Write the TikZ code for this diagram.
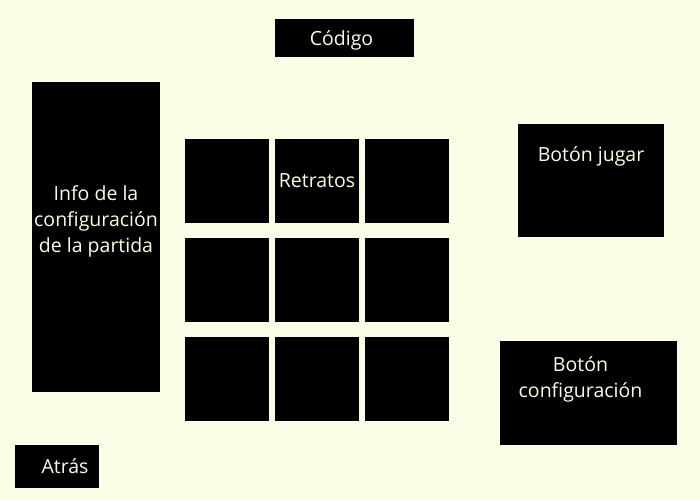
\documentclass[tikz,border=0pt]{standalone}
\usepackage{fontspec}
\setmainfont{Open Sans}
\usetikzlibrary{positioning}
\definecolor{ScreenBg}{HTML}{FAFEE6}
\definecolor{ScreenInk}{HTML}{000000}
\begin{document}
\begin{tikzpicture}[x=1pt,y=1pt,font=\fontsize{19.5}{26}\selectfont]
\tikzset{
  panel/.style={fill=ScreenInk,draw=none,inner sep=0pt,text=ScreenBg,align=center},
  portrait/.style={panel,minimum width=84pt,minimum height=84pt},
  caption/.style={text=ScreenBg,align=center,inner sep=0pt}
}
\fill[ScreenBg] (0,0) rectangle (700,500);
\useasboundingbox (0,0) rectangle (700,500);

\node[panel,minimum width=139pt,minimum height=38pt,
  label={[caption,xshift=-3pt,yshift=-2pt]center:Código}] (codigo) at (344.5,462) {};

\node[panel,minimum width=128pt,minimum height=310pt,
  label={[caption,yshift=16pt]center:{Info de la\\configuración\\de la partida}}] (info) at (96,263) {};

\node[portrait] (r11) at (227,319) {};
\node[portrait] (r12) at (317,319) {Retratos};
\node[portrait] (r13) at (407,319) {};
\node[portrait] (r21) at (227,220) {};
\node[portrait] (r22) at (317,220) {};
\node[portrait] (r23) at (407,220) {};
\node[portrait] (r31) at (227,121) {};
\node[portrait] (r32) at (317,121) {};
\node[portrait] (r33) at (407,121) {};

\node[panel,minimum width=146pt,minimum height=113pt,
  label={[caption,anchor=north,yshift=-23pt]north:Botón jugar}] (jugar) at (591,319.5) {};

\node[panel,minimum width=177pt,minimum height=104pt,
  label={[caption,anchor=north,xshift=-8pt,yshift=-16pt]north:{Botón\\configuración}}] (config) at (588.5,107) {};

\node[panel,minimum width=84pt,minimum height=43pt,
  label={[caption,xshift=8pt]center:Atrás}] (atras) at (57,34) {};
\end{tikzpicture}
\end{document}
